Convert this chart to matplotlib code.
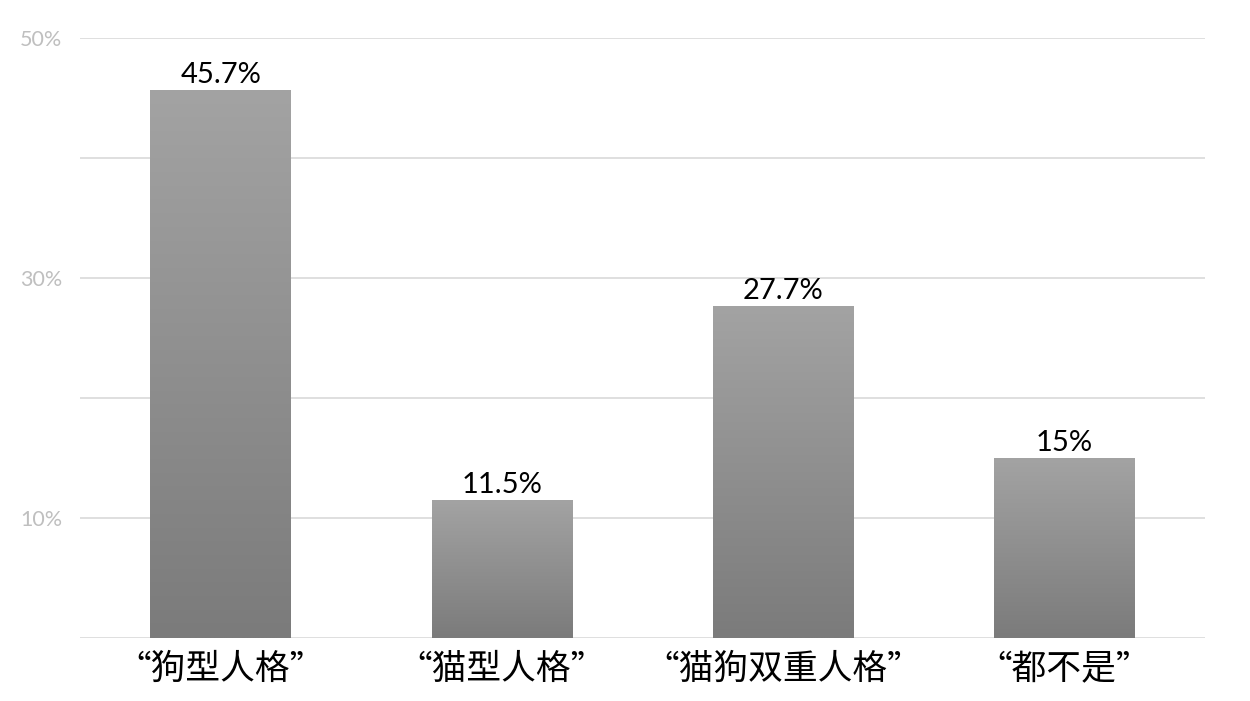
import matplotlib
matplotlib.use("Agg")
import matplotlib.pyplot as plt
import numpy as np
from matplotlib.colors import LinearSegmentedColormap

categories = ["“狗型人格”", "“猫型人格”", "“猫狗双重人格”", "“都不是”"]
values = [45.7, 11.5, 27.7, 15]
value_labels = ["45.7%", "11.5%", "27.7%", "15%"]
yticks = [10, 30, 50]
ytick_labels = ["10%", "30%", "50%"]
grid_levels = [0, 10, 20, 30, 40, 50]

fig = plt.figure(figsize=(12.5, 7.01), dpi=100)
ax = fig.add_axes([0.064, 0.0899, 0.9, 0.8559])
ax.set_xlim(-0.5, 3.5)
ax.set_ylim(0, 50)

for g in grid_levels:
    ax.axhline(g, color="#d9d9d9", lw=1.2, zorder=0)

cmap = LinearSegmentedColormap.from_list("g", ["#7b7b7b", "#a3a3a3"])
grad = np.linspace(0, 1, 256).reshape(-1, 1)
x = np.arange(len(categories))
bars = ax.bar(x, values, width=0.5, color="none", edgecolor="none", zorder=2)
for b, v, lab in zip(bars, values, value_labels):
    x0, w = b.get_x(), b.get_width()
    im = ax.imshow(grad, extent=[x0, x0 + w, 0, v], origin="lower", cmap=cmap,
                   aspect="auto", zorder=2)
    im.set_clip_path(b)
    ax.text(x0 + w / 2, v + 0.15, lab, ha="center", va="bottom", fontsize=21,
            family=["Lato", "DejaVu Sans"], color="black", zorder=3)
ax.set_xlim(-0.5, 3.5)
ax.set_ylim(0, 50)

ax.set_yticks(yticks)
ax.set_yticklabels(ytick_labels, fontsize=15.5, color="#bfbfbf", family=["Lato", "DejaVu Sans"])
ax.set_xticks(x)
ax.set_xticklabels(categories, fontsize=25, family=["Noto Sans CJK SC", "DejaVu Sans"],
                   color="black", fontweight="medium")
ax.tick_params(axis="both", length=0)
ax.tick_params(axis="y", pad=13)
ax.tick_params(axis="x", pad=10)
for s in ax.spines.values():
    s.set_visible(False)

fig.savefig("out.png", dpi=100)
